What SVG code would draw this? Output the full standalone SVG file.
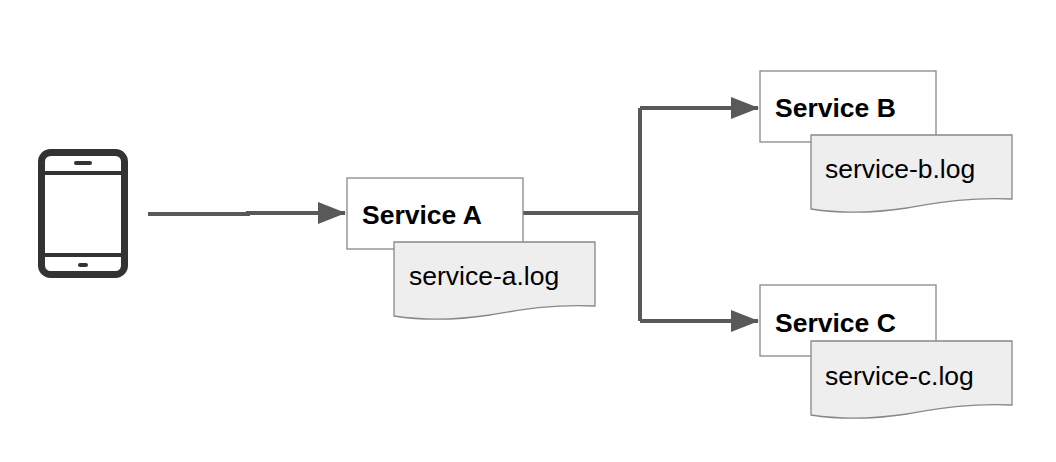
<svg xmlns="http://www.w3.org/2000/svg" width="1056" height="462" viewBox="0 0 1056 462">
<defs>
<style>
.box{fill:#fff;stroke:#888;stroke-width:1.3}
.doc{fill:#eee;stroke:#888;stroke-width:1.3}
.t{font-family:"Liberation Sans",Arial,sans-serif;font-size:26.5px;fill:#000}
.b{font-weight:bold}
.c{fill:none;stroke:#595959;stroke-width:4}
</style>
<marker id="a" viewBox="0 0 28 22" markerWidth="28" markerHeight="22" refX="27" refY="11" orient="auto" markerUnits="userSpaceOnUse"><path d="M0,0 L28,11 L0,22 Z" fill="#595959"/></marker>
</defs>
<g id="connectors">
<path class="c" d="M148,214 H248 V213 H345" marker-end="url(#a)"/>
<path class="c" d="M523,213 H640"/>
<path class="c" d="M640,108 V321"/>
<path class="c" d="M640,108 H758" marker-end="url(#a)"/>
<path class="c" d="M640,321 H758" marker-end="url(#a)"/>
</g>
<g id="phone">
<rect x="41.5" y="152.5" width="83" height="122" rx="9" fill="none" stroke="#333" stroke-width="7"/>
<line x1="42" y1="173" x2="124" y2="173" stroke="#333" stroke-width="4"/>
<line x1="42" y1="255" x2="124" y2="255" stroke="#333" stroke-width="4"/>
<line x1="76" y1="163" x2="90" y2="163" stroke="#333" stroke-width="4" stroke-linecap="round"/>
<line x1="80" y1="265" x2="86" y2="265" stroke="#333" stroke-width="4" stroke-linecap="round"/>
</g>
<g id="serviceA">
<rect class="box" x="347" y="178" width="176" height="71"/>
<text class="t b" x="362" y="224">Service A</text>
</g>
<g id="logA">
<path class="doc" d="M394,242 H595 V306 C550,304 520,310 490,315 C450,321 420,320 394,316 Z"/>
<text class="t" x="409" y="285">service-a.log</text>
</g>
<g id="serviceB">
<rect class="box" x="760" y="71" width="176" height="71"/>
<text class="t b" x="775" y="117">Service B</text>
</g>
<g id="logB">
<path class="doc" d="M811,135 H1012 V199 C967,197 937,203 907,208 C867,214 837,213 811,209 Z"/>
<text class="t" x="825" y="178">service-b.log</text>
</g>
<g id="serviceC">
<rect class="box" x="760" y="285" width="176" height="71"/>
<text class="t b" x="775" y="332">Service C</text>
</g>
<g id="logC">
<path class="doc" d="M811,341 H1012 V405 C967,403 937,409 907,414 C867,420 837,419 811,415 Z"/>
<text class="t" x="825" y="385">service-c.log</text>
</g>
</svg>
